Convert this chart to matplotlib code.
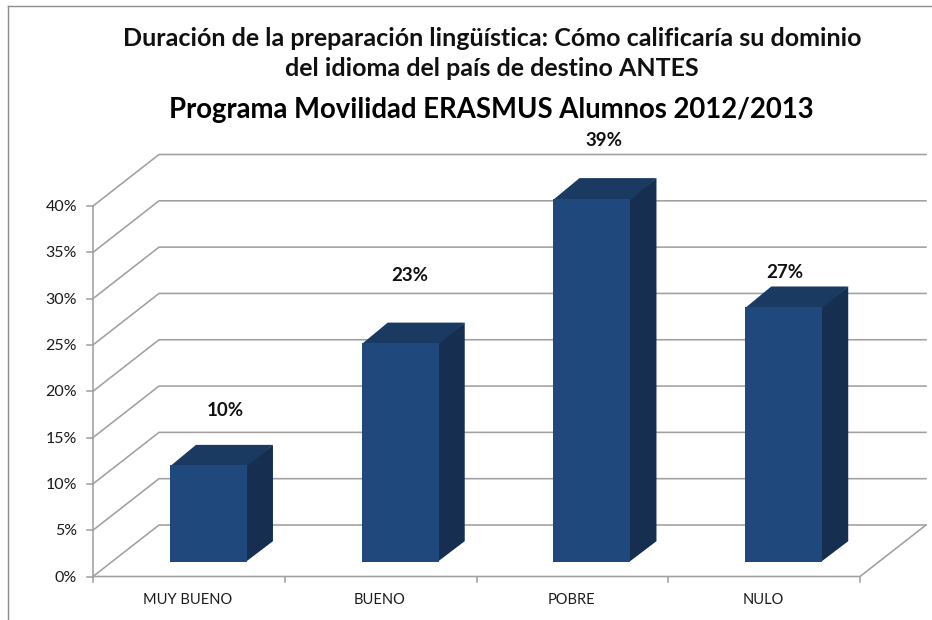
import matplotlib
matplotlib.use('Agg')
import matplotlib.pyplot as plt
from matplotlib.patches import Polygon
from matplotlib.lines import Line2D

plt.rcParams['font.family'] = ['Lato', 'DejaVu Sans']

# ========== Data ==========
categories = ['MUY BUENO', 'BUENO', 'POBRE', 'NULO']
bar_values = [10.4, 23.6, 39.2, 27.5]
bar_labels = ['10%', '23%', '39%', '27%']
y_ticks = [0, 5, 10, 15, 20, 25, 30, 35, 40]

title_lines = [
    'Duración de la preparación lingüística: Cómo calificaría su dominio',
    'del idioma del país de destino ANTES',
]
subtitle = 'Programa Movilidad ERASMUS Alumnos 2012/2013'

# ========== Layout (pixels) ==========
W, H = 932, 620
LEFT, RIGHT, BOTTOM, TOP = 93, 860, 576.5, 206
GREY = '#a0a0a0'
FRONT, TOP_FACE, SIDE = '#1f497d', '#1a3a62', '#162f50'

fig = plt.figure(figsize=(W / 100, H / 100), dpi=100, facecolor='white')
ax = fig.add_axes([LEFT / W, 1 - BOTTOM / H, (RIGHT - LEFT) / W, (BOTTOM - TOP) / H])
n = len(categories)
ax.set_xlim(0, n)
ax.set_ylim(0, 40)
ax.axis('off')

# pixel sizes converted to data units
px_x = n / (RIGHT - LEFT)
px_y = 40 / (BOTTOM - TOP)
depth_x, depth_y = 66 * px_x, 51.5 * px_y
bar_dx, bar_dy = 19.6 * px_x, 14.8 * px_y
face_dx, face_dy = 26 * px_x, 20.5 * px_y
bar_w = 77 * px_x

# Walls and floor
for v in y_ticks:
    xs = [0, depth_x, n + depth_x]
    ys = [v, v + depth_y, v + depth_y]
    ax.plot(xs, ys, color=GREY, lw=1.15, clip_on=False, zorder=1)
    ax.plot([-6 * px_x, 0], [v, v], color=GREY, lw=1.15, clip_on=False, zorder=1)
    ax.text(-16 * px_x, v - 1 * px_y, f'{v}%', ha='right', va='center', fontsize=11.5, color='#1a1a1a')
ax.plot([0, 0], [0, 40], color=GREY, lw=1.15, clip_on=False, zorder=1)
ax.plot([0, n, n + depth_x], [0, 0, depth_y], color=GREY, lw=1.15, clip_on=False, zorder=1)
for i in range(n + 1):
    ax.plot([i, i], [0, -5 * px_y], color=GREY, lw=1.15, clip_on=False, zorder=1)

# Bars
centers = [i + 0.5 + bar_dx for i in range(n)]
ax.bar(centers, bar_values, width=bar_w, bottom=bar_dy, color=FRONT,
       edgecolor='none', zorder=3, clip_on=False)
for c, v in zip(centers, bar_values):
    l, r = c - bar_w / 2, c + bar_w / 2
    b, t = bar_dy, bar_dy + v
    ax.add_patch(Polygon([(r - 1 * px_x, b), (r + face_dx, b + face_dy), (r + face_dx, t + face_dy), (r - 1 * px_x, t)],
                         closed=True, fc=SIDE, ec='none', zorder=2, clip_on=False))
    ax.add_patch(Polygon([(l, t - 1 * px_y), (l + face_dx, t + face_dy), (r + face_dx, t + face_dy), (r, t - 1 * px_y)],
                         closed=True, fc=TOP_FACE, ec='none', zorder=2, clip_on=False))

# Value labels, placed by hand as in the original
label_px = [(225, 411), (410, 275), (604, 140), (785, 273)]
for (px, py), s in zip(label_px, bar_labels):
    fig.text(px / W, 1 - py / H, s, ha='center', va='center', fontsize=13.5,
             fontweight='bold', color='#111111')

# Category labels
for i, s in enumerate(categories):
    ax.text(i + 0.5 - 1 * px_x, -23 * px_y, s, ha='center', va='center', fontsize=10.5, color='#1a1a1a')

# Titles
fig.text(492 / W, 1 - 38 / H, title_lines[0], ha='center', va='center', fontsize=18,
         fontweight='bold', color='#111111')
fig.text(492 / W, 1 - 69 / H, title_lines[1], ha='center', va='center', fontsize=18,
         fontweight='bold', color='#111111')
fig.text(491.5 / W, 1 - 110 / H, subtitle, ha='center', va='center', fontsize=19.8,
         fontweight='bold', color='#000000')

# Frame of the pasted picture
fig.add_artist(Line2D([8 / W, 8 / W], [0, 1 - 6 / H], color='#8c8c8c', lw=1.0))
fig.add_artist(Line2D([8 / W, 1], [1 - 6 / H, 1 - 6 / H], color='#8c8c8c', lw=1.0))

fig.savefig('out.png', dpi=100)
